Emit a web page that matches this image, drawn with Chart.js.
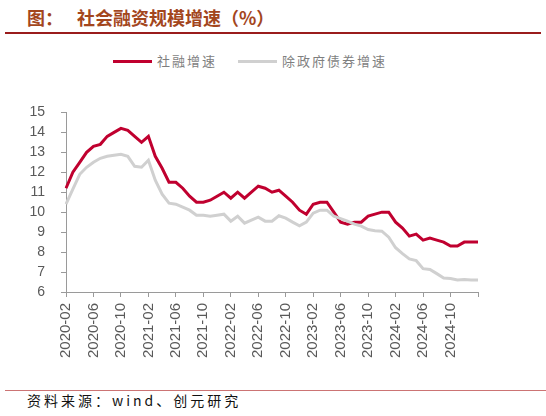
<!DOCTYPE html>
<html lang="zh-CN">
<head>
    <meta charset="UTF-8">
    <title>社会融资规模增速</title>
    <script src="https://cdn.jsdelivr.net/npm/chart.js"></script>
    <style>
        html, body { margin: 0; padding: 0; background: #fff; }
        body { width: 546px; height: 416px; position: relative; overflow: hidden;
               font-family: "Noto Sans CJK SC", sans-serif; }
        #title { position: absolute; top: 5px; left: 27px; font-size: 18px; font-weight: bold;
                 color: #a3461d; line-height: 24px; white-space: nowrap; }
        #title .main { margin-left: 14px; }
        #rule-top { position: absolute; left: 5px; right: 5px; top: 32px; height: 2px; background: #9a1c1c; }
        #legend { position: absolute; top: 50px; left: 0; width: 546px; height: 22px; }
        .lg-item { position: absolute; top: 0; height: 22px; font-size: 13px; letter-spacing: 2px;
                   color: #7f7f7f; line-height: 22px; white-space: nowrap; }
        .lg-line { display: inline-block; width: 39px; height: 3px; vertical-align: middle;
                   margin-right: 5px; position: relative; top: -1px; }
        #chart-box { position: absolute; left: 0; top: 88px; width: 546px; height: 290px; }
        #rule-bottom { position: absolute; left: 5px; right: 0; top: 390px; height: 1px; background: #cc7474; }
        #source { position: absolute; left: 27px; top: 390px; font-size: 14px; letter-spacing: 3px;
                  color: #111; line-height: 20px; white-space: nowrap; }
    </style>
</head>
<body>
    <div id="title">图：<span class="main">社会融资规模增速（%）</span></div>
    <div id="rule-top"></div>
    <div id="legend"></div>
    <div id="chart-box"><canvas id="tsf-chart" width="546" height="290"></canvas></div>
    <div id="rule-bottom"></div>
    <div id="source">资料来源：wind、创元研究</div>

    <script>
        const months = [
            '2020-02', '2020-03', '2020-04', '2020-05', '2020-06', '2020-07', '2020-08', '2020-09', '2020-10', '2020-11', '2020-12',
            '2021-01', '2021-02', '2021-03', '2021-04', '2021-05', '2021-06', '2021-07', '2021-08', '2021-09', '2021-10', '2021-11', '2021-12',
            '2022-01', '2022-02', '2022-03', '2022-04', '2022-05', '2022-06', '2022-07', '2022-08', '2022-09', '2022-10', '2022-11', '2022-12',
            '2023-01', '2023-02', '2023-03', '2023-04', '2023-05', '2023-06', '2023-07', '2023-08', '2023-09', '2023-10', '2023-11', '2023-12',
            '2024-01', '2024-02', '2024-03', '2024-04', '2024-05', '2024-06', '2024-07', '2024-08', '2024-09', '2024-10', '2024-11', '2024-12',
            '2025-01', '2025-02'
        ];

        // 社融增速
        const tsfGrowth = [
            11.2, 12.0, 12.5, 13.0, 13.3, 13.4, 13.8, 14.0, 14.2, 14.1, 13.8,
            13.5, 13.8, 12.8, 12.2, 11.5, 11.5, 11.2, 10.8, 10.5, 10.5, 10.6, 10.8,
            11.0, 10.7, 11.0, 10.7, 11.0, 11.3, 11.2, 11.0, 11.1, 10.8, 10.5, 10.1,
            9.9, 10.4, 10.5, 10.5, 10.0, 9.5, 9.4, 9.5, 9.5, 9.8, 9.9, 10.0,
            10.0, 9.5, 9.2, 8.8, 8.9, 8.6, 8.7, 8.6, 8.5, 8.3, 8.3, 8.5,
            8.5, 8.5
        ];

        // 除政府债券增速
        const exGovBondGrowth = [
            10.4, 11.15, 11.9, 12.25, 12.5, 12.7, 12.8, 12.85, 12.9, 12.8, 12.3,
            12.25, 12.6, 11.6, 10.9, 10.45, 10.4, 10.25, 10.1, 9.85, 9.85, 9.8, 9.85,
            9.9, 9.55, 9.8, 9.45, 9.6, 9.75, 9.55, 9.55, 9.82, 9.7, 9.5, 9.32,
            9.5, 9.95, 10.1, 10.1, 9.8, 9.68, 9.55, 9.4, 9.3, 9.13, 9.07, 9.05,
            8.75, 8.22, 7.92, 7.66, 7.57, 7.17, 7.13, 6.92, 6.7, 6.68, 6.6, 6.63,
            6.6, 6.6
        ];

        const seriesNames = ['社融增速', '除政府债券增速'];
        const seriesColors = ['#c0002f', '#d0d0d0'];
        const yTicks = [6, 7, 8, 9, 10, 11, 12, 13, 14, 15];

        // 图例（放在画布外面，位置对齐原图）
        const legendLeft = [113, 238];
        const legendBox = document.getElementById('legend');
        seriesNames.forEach((name, i) => {
            const item = document.createElement('div');
            item.className = 'lg-item';
            item.style.left = legendLeft[i] + 'px';
            item.innerHTML = `<span class="lg-line" style="background:${seriesColors[i]}"></span>${name}`;
            legendBox.appendChild(item);
        });

        const axisColor = '#9a9a9a';
        const tickFont = { family: '"Liberation Sans", Arial, sans-serif', size: 15 };

        const ctx = document.getElementById('tsf-chart').getContext('2d');
        window.tsfChart = new Chart(ctx, {
            type: 'line',
            data: {
                labels: months,
                datasets: [
                    {
                        label: seriesNames[1],
                        data: exGovBondGrowth,
                        borderColor: seriesColors[1],
                        borderWidth: 3,
                        pointRadius: 0,
                        tension: 0,
                        fill: false
                    },
                    {
                        label: seriesNames[0],
                        data: tsfGrowth,
                        borderColor: seriesColors[0],
                        borderWidth: 3,
                        pointRadius: 0,
                        tension: 0,
                        fill: false
                    }
                ]
            },
            options: {
                responsive: false,
                animation: false,
                events: [],
                layout: { padding: { top: 9, right: 68, bottom: 0, left: 0 } },
                plugins: {
                    legend: { display: false },
                    tooltip: { enabled: false }
                },
                scales: {
                    x: {
                        offset: false,
                        border: { color: axisColor, width: 1 },
                        grid: { drawOnChartArea: false, drawTicks: true, tickLength: 5, color: axisColor },
                        ticks: {
                            autoSkip: false,
                            maxRotation: 90,
                            minRotation: 90,
                            padding: 6,
                            color: '#595959',
                            font: tickFont,
                            callback: (value, index) => {
                                if (index === months.length - 1) return '';
                                return index % 4 === 0 ? months[index] : null;
                            }
                        },
                        afterFit: (scale) => { scale.height = 86; }
                    },
                    y: {
                        min: yTicks[0],
                        max: yTicks[yTicks.length - 1],
                        border: { color: axisColor, width: 1 },
                        grid: { drawOnChartArea: false, drawTicks: true, tickLength: 5, color: axisColor },
                        afterBuildTicks: (scale) => { scale.ticks = yTicks.map(v => ({ value: v })); },
                        ticks: {
                            padding: 16,
                            color: '#595959',
                            font: { family: '"Liberation Sans", Arial, sans-serif', size: 14 }
                        },
                        afterFit: (scale) => { scale.width = 66; }
                    }
                }
            }
        });
    </script>
</body>
</html>
